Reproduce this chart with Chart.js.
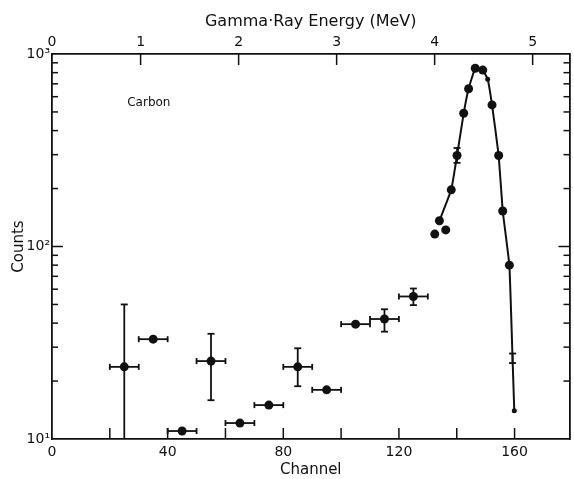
<!DOCTYPE html>
<html>
<head>
<meta charset="utf-8">
<script src="https://cdn.jsdelivr.net/npm/chart.js@4.4.1/dist/chart.umd.min.js"></script>
<style>
  html, body { margin: 0; padding: 0; background: #fff; }
</style>
</head>
<body>
<canvas id="chart" width="574" height="479"></canvas>
<script>
// tick labels
var channelTicks = [0, 20, 40, 60, 80, 100, 120, 140, 160];
var energyTicks = [1, 2, 3, 4, 5];
var countTicks = [10, 20, 30, 40, 50, 60, 70, 80, 90, 100, 200, 300, 400, 500, 600, 700, 800, 900, 1000];

// energy calibration (MeV at the left and right frame)
var energyMin = 0.096;
var energyMax = 5.376;

// low-energy bins (channel +/- half width)
var binChannels = [25, 35, 45, 55, 65, 75, 85, 95, 105, 115, 125];
var binCounts = [23.7, 33, 11, 25.4, 12.1, 15, 23.7, 18, 39.5, 42, 55];
var binHalfWidth = [5, 5, 5, 5, 5, 5, 5, 5, 5, 5, 5];
var binLow = [10, null, null, 15.9, null, null, 18.8, null, null, 36.1, 49.6];
var binHigh = [50, null, null, 35.2, null, null, 29.6, null, null, 47.2, 60.5];

// 4.43 MeV peak
var peakChannels = [134, 138.1, 140.1, 142.4, 144.1, 146.4, 149, 150.7, 152.2, 154.5, 155.9, 158.2, 159.3, 159.9];
var peakCounts = [136, 197, 297, 492, 660, 843, 825, 740, 544, 297, 153, 80, 26.3, 14];
var peakLow = [null, null, 272, null, null, null, null, null, null, null, null, null, 24.8, null];
var peakHigh = [null, null, 325, null, null, null, null, null, null, null, null, null, 27.8, null];
var peakRadius = [4.5, 4.5, 4.5, 4.5, 4.5, 4.5, 4.5, 2.5, 4.5, 4.5, 4.5, 4.5, 0, 2.5];

// loose points at the foot of the peak
var footChannels = [132.4, 136.2];
var footCounts = [116, 122];

var ink = '#111';
var font = 'DejaVu Sans';

function zip(xs, ys) {
  return xs.map(function (x, i) { return { x: x, y: ys[i] }; });
}

// error bars, drawn through the scales
var errorBars = {
  id: 'errorBars',
  afterDatasetsDraw: function (chart) {
    var ctx = chart.ctx;
    var sx = chart.scales.x, sy = chart.scales.y;
    ctx.save();
    ctx.strokeStyle = ink;
    ctx.lineWidth = 1.8;
    function seg(x1, y1, x2, y2) { ctx.beginPath(); ctx.moveTo(x1, y1); ctx.lineTo(x2, y2); ctx.stroke(); }
    function bar(ch, v, hw, lo, hi) {
      var px = sx.getPixelForValue(ch), py = sy.getPixelForValue(v);
      if (hw) {
        var a = sx.getPixelForValue(ch - hw), b = sx.getPixelForValue(ch + hw);
        seg(a, py, b, py);
        seg(a, py - 3, a, py + 3);
        seg(b, py - 3, b, py + 3);
      }
      if (lo != null) {
        var t = sy.getPixelForValue(hi), u = sy.getPixelForValue(lo);
        seg(px, t, px, u);
        seg(px - 3.5, t, px + 3.5, t);
        if (lo > 10) seg(px - 3.5, u, px + 3.5, u);
      }
    }
    binChannels.forEach(function (c, i) { bar(c, binCounts[i], binHalfWidth[i], binLow[i], binHigh[i]); });
    peakChannels.forEach(function (c, i) { if (peakLow[i] != null) bar(c, peakCounts[i], 0, peakLow[i], peakHigh[i]); });
    ctx.restore();
  }
};

// inward tick marks on all four sides, plus the "Carbon" note
var frameTicks = {
  id: 'frameTicks',
  afterDraw: function (chart) {
    var ctx = chart.ctx, a = chart.chartArea;
    var sx = chart.scales.x, st = chart.scales.xTop, sy = chart.scales.y;
    ctx.save();
    ctx.strokeStyle = ink;
    ctx.lineWidth = 1.5;
    function seg(x1, y1, x2, y2) { ctx.beginPath(); ctx.moveTo(x1, y1); ctx.lineTo(x2, y2); ctx.stroke(); }
    channelTicks.forEach(function (v) {
      if (v <= 0) return;
      var p = sx.getPixelForValue(v);
      seg(p, a.bottom, p, a.bottom - 11);
    });
    energyTicks.forEach(function (v) {
      var p = st.getPixelForValue(v);
      seg(p, a.top, p, a.top + 11);
    });
    countTicks.forEach(function (v) {
      if (v === 10 || v === 1000) return;
      var p = sy.getPixelForValue(v);
      var len = (v === 100) ? 11 : 6;
      seg(a.left, p, a.left + len, p);
      seg(a.right, p, a.right - len, p);
    });
    ctx.fillStyle = ink;
    ctx.font = '12px "' + font + '"';
    ctx.textAlign = 'center';
    ctx.textBaseline = 'middle';
    ctx.fillText('Carbon', sx.getPixelForValue(33.5), sy.getPixelForValue(560));
    ctx.restore();
  }
};

var sup = { 10: '10\u00b9', 100: '10\u00b2', 1000: '10\u00b3' };

new Chart(document.getElementById('chart'), {
  type: 'scatter',
  data: {
    datasets: [
      {
        data: zip(peakChannels, peakCounts),
        showLine: true,
        borderColor: ink,
        borderWidth: 2,
        tension: 0.1,
        pointRadius: peakRadius,
        pointBackgroundColor: ink,
        pointBorderColor: ink,
        pointBorderWidth: 0
      },
      {
        data: zip(footChannels, footCounts),
        pointRadius: 4.5,
        pointBackgroundColor: ink,
        pointBorderColor: ink,
        pointBorderWidth: 0
      },
      {
        data: zip(binChannels, binCounts),
        pointRadius: 4.5,
        pointBackgroundColor: ink,
        pointBorderColor: ink,
        pointBorderWidth: 0
      }
    ]
  },
  options: {
    responsive: false,
    animation: false,
    layout: { padding: 0 },
    plugins: { legend: { display: false }, tooltip: { enabled: false } },
    scales: {
      x: {
        type: 'linear', position: 'bottom', min: 0, max: 179,
        afterBuildTicks: function (s) { s.ticks = channelTicks.map(function (v) { return { value: v }; }); },
        afterFit: function (s) { s.height = 40; },
        grid: { display: false, drawTicks: false },
        border: { display: true, color: ink, width: 1.8 },
        ticks: {
          color: ink, padding: 5, maxRotation: 0, autoSkip: false,
          font: { family: font, size: 14 },
          callback: function (v) { return v % 40 === 0 ? String(v) : ''; }
        },
        title: { display: true, text: 'Channel', color: ink, padding: 0, font: { family: font, size: 15 } }
      },
      xTop: {
        type: 'linear', position: 'top', min: energyMin, max: energyMax,
        afterBuildTicks: function (s) {
          s.ticks = [{ value: energyMin }].concat(energyTicks.map(function (v) { return { value: v }; }));
        },
        afterFit: function (s) { s.height = 54; },
        grid: { display: false, drawTicks: false },
        border: { display: true, color: ink, width: 1.8 },
        ticks: {
          color: ink, padding: 3, maxRotation: 0, autoSkip: false,
          font: { family: font, size: 14 },
          callback: function (v) { return v === energyMin ? '0' : String(v); }
        },
        title: { display: true, text: 'Gamma\u00b7Ray Energy (MeV)', color: ink, padding: { top: 12, bottom: 2 }, font: { family: font, size: 16 } }
      },
      y: {
        type: 'logarithmic', position: 'left', min: 10, max: 1000,
        afterBuildTicks: function (s) { s.ticks = countTicks.map(function (v) { return { value: v }; }); },
        afterFit: function (s) { s.width = 52; },
        grid: { display: false, drawTicks: false },
        border: { display: true, color: ink, width: 1.8 },
        ticks: {
          color: ink, padding: 2, autoSkip: false,
          font: { family: font, size: 14 },
          callback: function (v) { return sup[v] || ''; }
        },
        title: { display: true, text: 'Counts', color: ink, padding: { top: 10, bottom: 0 }, font: { family: font, size: 15 } }
      },
      yRight: {
        type: 'logarithmic', position: 'right', min: 10, max: 1000,
        afterFit: function (s) { s.width = 1; },
        grid: { display: false, drawTicks: false },
        border: { display: true, color: ink, width: 1.8 },
        ticks: { display: false }
      }
    }
  },
  plugins: [errorBars, frameTicks]
});
</script>
</body>
</html>
